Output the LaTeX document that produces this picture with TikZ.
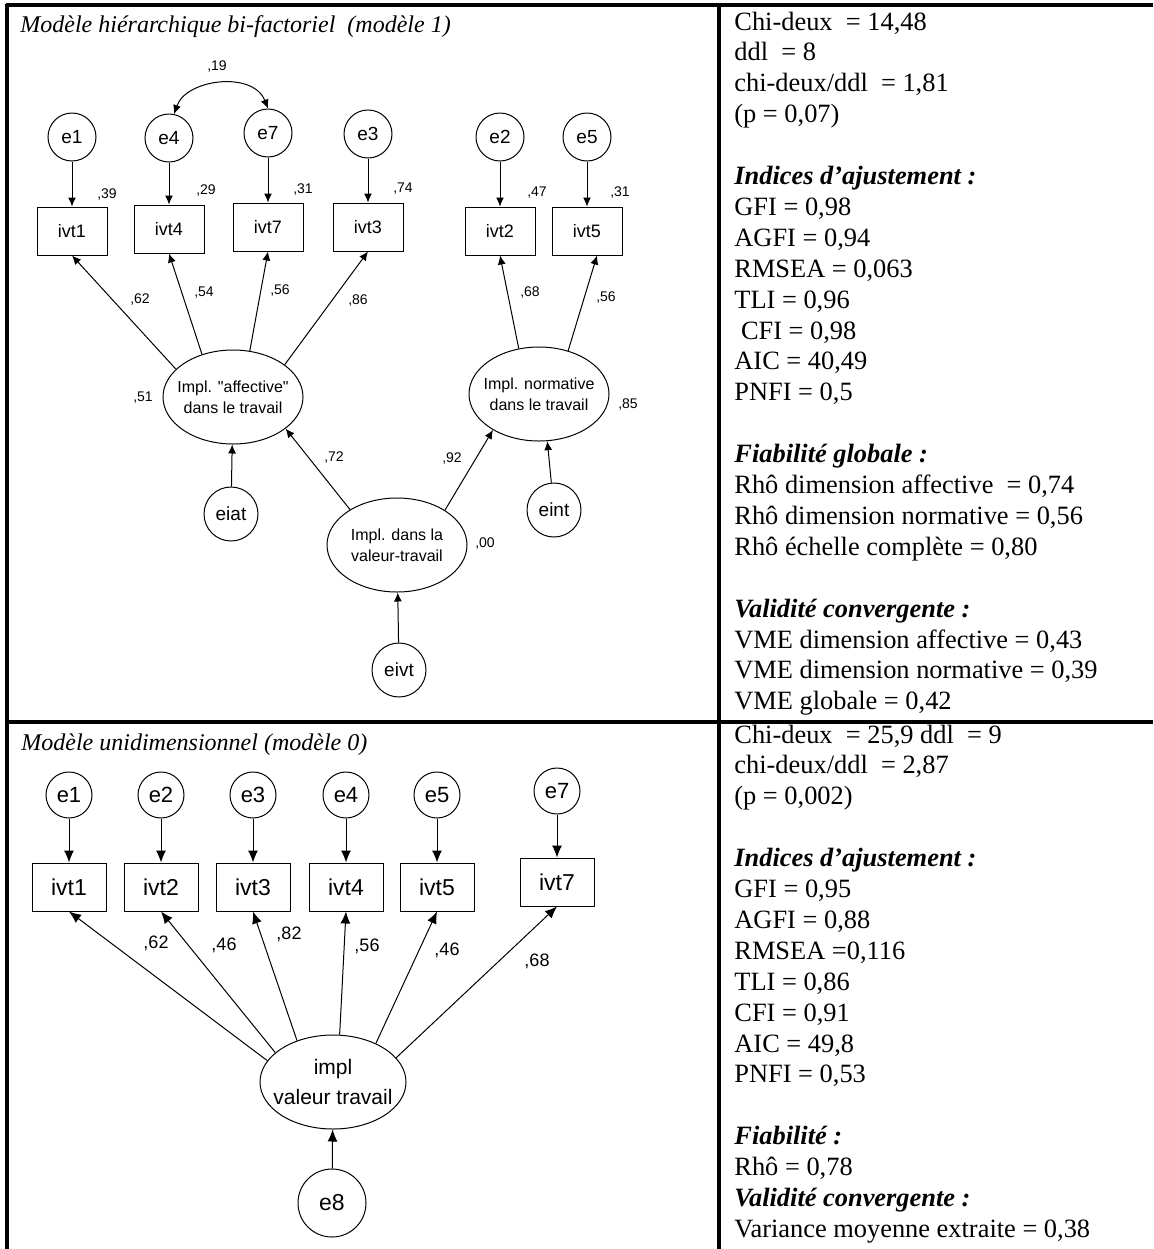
\documentclass[tikz,border=0pt]{standalone}
\usepackage{fontspec}
\setmainfont{Liberation Serif}
\setsansfont{Liberation Sans}
\usepackage{tikz}
\usetikzlibrary{arrows.meta,shapes.geometric}

\newcommand{\hd}[1]{\textbf{\textit{#1}}}

\tikzset{
  rule/.style={line width=1.75pt},
  err/.style={draw, circle, line width=0.5pt, minimum size=24pt, inner sep=0pt, font=\sffamily\fontsize{9.5}{11}\selectfont},
  obs/.style={draw, rectangle, line width=0.5pt, minimum width=35pt, minimum height=24pt, inner sep=0pt, font=\sffamily\fontsize{9}{11}\selectfont},
  lat/.style={draw, ellipse, line width=0.5pt, minimum width=70pt, minimum height=47pt, inner xsep=-5pt, inner ysep=0pt, align=center, font=\sffamily\fontsize{8}{10.5}\selectfont},
  dist/.style={draw, circle, line width=0.5pt, minimum size=27pt, inner sep=0pt, font=\sffamily\fontsize{9.5}{11}\selectfont},
  wt/.style={inner sep=0pt, font=\sffamily\fontsize{7}{8}\selectfont},
  arr/.style={->, line width=0.5pt, >={Latex[length=4.5pt,width=4pt]}},
  uerr/.style={draw, circle, line width=0.5pt, minimum size=23pt, inner sep=0pt, font=\sffamily\fontsize{11}{13}\selectfont},
  uobs/.style={draw, rectangle, line width=0.5pt, minimum width=37pt, minimum height=24pt, inner sep=0pt, font=\sffamily\fontsize{11.5}{13}\selectfont},
  ulat/.style={draw, ellipse, line width=0.5pt, minimum width=73pt, minimum height=47pt, inner xsep=-6pt, inner ysep=0pt, align=center, font=\sffamily\fontsize{10.5}{15}\selectfont},
  udist/.style={draw, circle, line width=0.5pt, minimum size=34pt, inner sep=0pt, font=\sffamily\fontsize{11.5}{13}\selectfont},
  uwt/.style={inner sep=0pt, font=\sffamily\fontsize{9}{10}\selectfont},
  uarr/.style={->, line width=0.5pt, >={Latex[length=6pt,width=5pt]}},
  stat/.style={anchor=base west, inner sep=0pt, font=\fontsize{13.2}{15}\selectfont},
  ttl/.style={anchor=base west, inner sep=0pt, font=\itshape\fontsize{12}{14}\selectfont}
}

\begin{document}
\begin{tikzpicture}[x=0.5pt, y=-0.5pt]
\useasboundingbox (0,0) rectangle (1153,1249);

% cadre du tableau
\draw[rule] (5.5,5) -- (1153,5);
\draw[rule] (7,3.5) -- (7,1249);
\draw[rule] (719,3.5) -- (719,1249);
\draw[rule] (7,722) -- (1153,722);

% modele 1
\node[ttl] (titre1) at (20,32) {Modèle hiérarchique bi-factoriel~~(modèle 1)};

\foreach \n/\x/\ye/\yb in {1/72/137/231, 4/169/138/229, 7/268/133/227, 3/368/134/227, 2/500/137/231, 5/587/137/231} {
  \node[err] (e\n) at (\x,\ye) {e\n};
  \node[obs] (ivt\n) at (\x,\yb) {ivt\n};
  \draw[arr] (e\n) -- (ivt\n);
}

\node[lat] (aff) at (233,397) {Impl. \textquotedbl affective\textquotedbl\\dans le travail};
\node[lat] (norm) at (539,394) {Impl. normative\\dans le travail};
\node[lat] (valt) at (397,545) {Impl. dans la\\valeur-travail};
\node[dist] (eiat) at (231,514) {eiat};
\node[dist] (eint) at (554,510) {eint};
\node[dist] (eivt) at (399,670) {eivt};

\draw[arr] (aff.154) -- (ivt1.south);
\draw[arr] (aff.126) -- (ivt4.south);
\draw[arr] (aff.70) -- (ivt7.south);
\draw[arr] (aff.32) -- (ivt3.south);
\draw[arr] (norm.114) -- (ivt2.south);
\draw[arr] (norm.56) -- ([xshift=5pt]ivt5.south);
\draw[arr] (valt.143) -- (aff.-31);
\draw[arr] (valt.36) -- (norm.218);
\draw[arr] (eiat) -- (aff);
\draw[arr] (eint) -- (norm.-80);
\draw[arr] (eivt) -- (valt);
\draw[arr, <->] (e4.78) .. controls +(12,-35) and +(-15,-38) .. (e7.90);

\node[wt] (cov47) at (217,67) {,19};
\node[wt] (r1) at (107,194) {,39};
\node[wt] (r4) at (206,191) {,29};
\node[wt] (r7) at (303,189) {,31};
\node[wt] (r3) at (403,189) {,74};
\node[wt] (r2) at (537,193) {,47};
\node[wt] (r5) at (620,193) {,31};
\node[wt] (w1) at (140,299) {,62};
\node[wt] (w4) at (204,293) {,54};
\node[wt] (w7) at (280,290) {,56};
\node[wt] (w3) at (358,301) {,86};
\node[wt] (w2) at (530,292) {,68};
\node[wt] (w5) at (606,297) {,56};
\node[wt] (raff) at (143,398) {,51};
\node[wt] (rnorm) at (628,404) {,85};
\node[wt] (waff) at (334,457) {,72};
\node[wt] (wnorm) at (452,458) {,92};
\node[wt] (rvalt) at (485,543) {,00};

\foreach \txt [count=\i] in {{Chi-deux~~= 14,48}, {ddl~~= 8}, {chi-deux/ddl~~= 1,81}, {(p = 0,07)}, {},
    {\hd{Indices d’ajustement :}}, {GFI = 0,98}, {AGFI = 0,94}, {RMSEA = 0,063}, {TLI = 0,96}, {\ CFI = 0,98}, {AIC = 40,49}, {PNFI = 0,5}, {},
    {\hd{Fiabilité globale :}}, {Rhô dimension affective~~= 0,74}, {Rhô dimension normative = 0,56}, {Rhô échelle complète = 0,80}, {},
    {\hd{Validité convergente :}}, {VME dimension affective = 0,43}, {VME dimension normative = 0,39}, {VME globale = 0,42}}
  \node[stat] (sa\i) at (734,{30+30.9*(\i-1)}) {\txt};

% modele 0
\node[ttl] (titre0) at (21,750) {Modèle unidimensionnel (modèle 0)};

\foreach \n/\x/\ye/\yb in {1/69/795/887, 2/161/795/887, 3/253/795/887, 4/346/795/887, 5/437/795/887, 7/557/791/882} {
  \node[uerr] (ue\n) at (\x,\ye) {e\n};
  \node[uobs] (uivt\n) at (\x,\yb) {ivt\n};
  \draw[uarr] (ue\n) -- (uivt\n);
}

\node[ulat] (impl) at (333,1082) {impl\\valeur travail};
\node[udist] (e8) at (332,1203) {e8};

\foreach \n/\a in {1/162, 2/153, 3/131, 4/82, 5/42, 7/21}
  \draw[uarr] (impl.\a) -- (uivt\n.south);
\draw[uarr] (e8) -- (impl);

\node[uwt] (uw1) at (156,943) {,62};
\node[uwt] (uw2) at (224,945) {,46};
\node[uwt] (uw3) at (289,934) {,82};
\node[uwt] (uw4) at (367,946) {,56};
\node[uwt] (uw5) at (447,950) {,46};
\node[uwt] (uw7) at (537,961) {,68};

\foreach \txt [count=\i] in {{Chi-deux~~= 25,9 ddl~~= 9}, {chi-deux/ddl~~= 2,87}, {(p = 0,002)}, {},
    {\hd{Indices d’ajustement :}}, {GFI = 0,95}, {AGFI = 0,88}, {RMSEA =0,116}, {TLI = 0,86}, {CFI = 0,91}, {AIC = 49,8}, {PNFI = 0,53}, {},
    {\hd{Fiabilité :}}, {Rhô = 0,78}, {\hd{Validité convergente :}}, {Variance moyenne extraite = 0,38}}
  \node[stat] (sb\i) at (734,{743+30.9*(\i-1)}) {\txt};

\end{tikzpicture}
\end{document}
